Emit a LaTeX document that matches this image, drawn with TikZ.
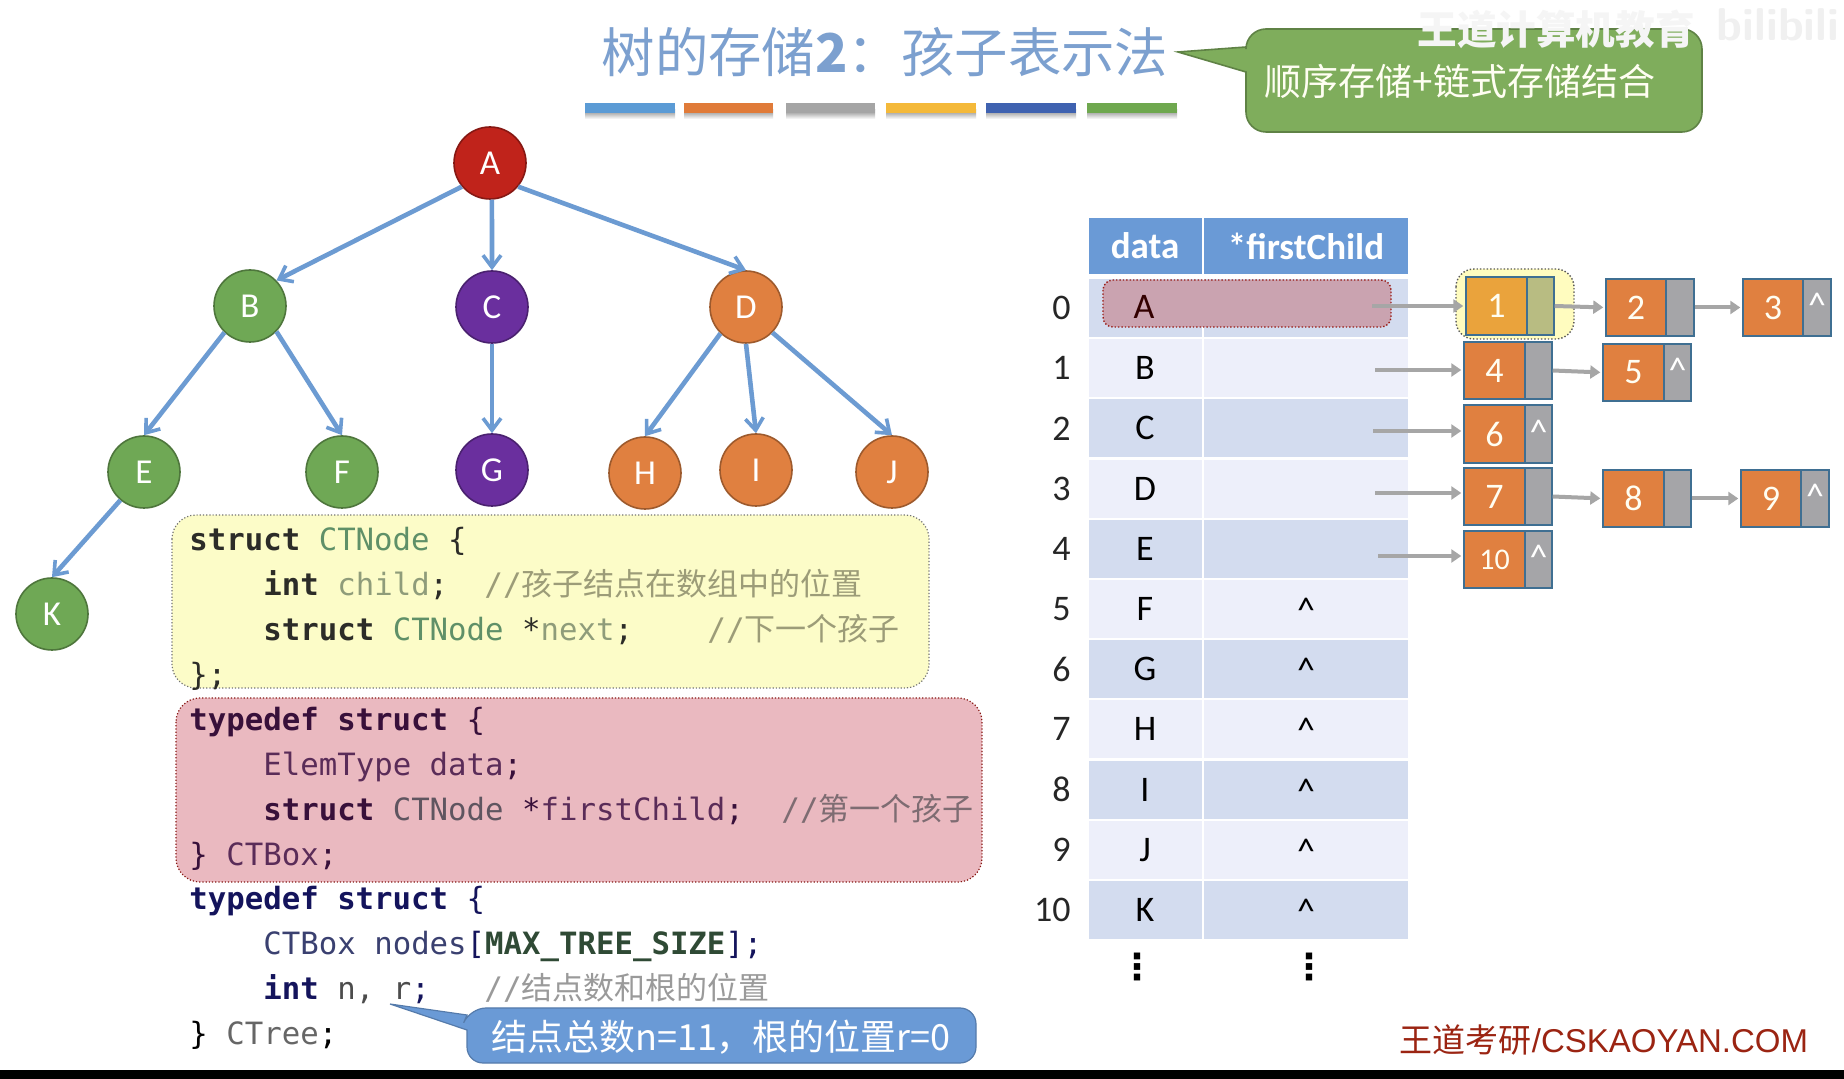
\documentclass[tikz,border=0pt]{standalone}
\usepackage{fontspec}
\usetikzlibrary{arrows.meta,calc}
\setmainfont{Carlito}
\newfontfamily\cjk{Noto Sans CJK SC}
\newfontfamily\code{DejaVu Sans Mono}
\newfontfamily\arial{Liberation Sans}
\newfontfamily\djv{DejaVu Sans}
\definecolor{treeblue}{HTML}{6C9BD2}
\definecolor{hdr}{HTML}{6A9AD6}
\definecolor{rowA}{HTML}{D3DCEF}
\definecolor{rowB}{HTML}{EDEFFA}
\definecolor{nodeR}{HTML}{C0231B}
\definecolor{nodeG}{HTML}{6FA855}
\definecolor{nodeP}{HTML}{6A2F9E}
\definecolor{nodeO}{HTML}{E08040}
\definecolor{listO}{HTML}{E08040}
\definecolor{listG}{HTML}{A5A5A8}
\definecolor{listE}{HTML}{3F6F92}
\definecolor{ptr}{HTML}{A6A6A6}
\definecolor{callG}{HTML}{7FAD5C}
\definecolor{callB}{HTML}{6A9AD6}
\definecolor{boxY}{HTML}{FCFCC8}
\definecolor{boxR}{HTML}{EAB9C0}
\definecolor{rowHi}{HTML}{CAA3B0}
\definecolor{kwY}{HTML}{2C2C28}
\definecolor{tyY}{HTML}{5F9068}
\definecolor{vaY}{HTML}{8F9C7A}
\definecolor{cmY}{HTML}{9C9C78}
\definecolor{kwR}{HTML}{38103A}
\definecolor{tyR}{HTML}{5A2C58}
\definecolor{ctR}{HTML}{5F5560}
\definecolor{cmR}{HTML}{7E6C72}
\definecolor{kwW}{HTML}{14145C}
\definecolor{tyW}{HTML}{3A4070}
\definecolor{maW}{HTML}{2F4A35}
\definecolor{cmW}{HTML}{9A9A9A}
\newcommand{\kw}[2]{{\color{#1}\bfseries #2}}
\newcommand{\lnode}[8]{%
  % name x1 xdiv x2 y1 y2 label pointer-text
  \pgfmathsetmacro{\wa}{(#3-#2)*0.5}\pgfmathsetmacro{\wb}{(#4-#3)*0.5}\pgfmathsetmacro{\hh}{(#6-#5)*0.5}%
  \node[listcell,fill=listO,minimum width=\wa pt,minimum height=\hh pt,font=\listfont] (#1) at ({(#2+#3)/2},{(#5+#6)/2}) {#7};
  \node[listcell,fill=listG,minimum width=\wb pt,minimum height=\hh pt,font=\fontsize{18}{18}\selectfont,text=white] (#1p) at ({(#3+#4)/2},{(#5+#6)/2}) {\raisebox{2pt}{#8}};
}
\newcommand{\listfont}{\fontsize{18}{18}\selectfont}
\tikzset{
  treenode/.style={circle,minimum size=36pt,inner sep=0pt,draw=#1!70!black,line width=0.8pt,fill=#1,text=white,font=\fontsize{17.5}{18}\selectfont},
  edge/.style={draw=treeblue,line width=2.3pt,-{Straight Barb[length=6pt,width=9pt,line width=1.8pt]}},
  listcell/.style={draw=listE,line width=0.7pt,inner sep=0pt,text=white!95!yellow},
  ptrarrow/.style={draw=ptr,line width=2pt,-{Triangle[length=5pt,width=6.5pt]},shorten >=1pt},
  cellA/.style={fill=rowA,minimum height=29pt,inner sep=0pt,font=\fontsize{18}{18}\selectfont,text height=11.5pt,text depth=0pt},
  cellB/.style={fill=rowB,minimum height=29pt,inner sep=0pt,font=\fontsize{18}{18}\selectfont,text height=11.5pt,text depth=0pt},
  wd/.style={minimum width=56pt},
  wf/.style={minimum width=102pt},
  hdrcell/.style={fill=hdr,text=white,inner sep=0pt,minimum height=28pt,font=\fontsize{18.5}{19}\selectfont\bfseries},
  idx/.style={anchor=east,inner sep=0pt,font=\fontsize{18}{18}\selectfont,text=black!85},
  codeline/.style={anchor=base west,inner sep=0pt,font=\code\fontsize{15.35}{15.35}\selectfont},
  comment/.style={anchor=base west,inner sep=0pt,font=\fontsize{15.5}{15.5}\selectfont},
  vdots/.style={inner sep=0pt,font=\djv\fontsize{18}{18}\selectfont\bfseries},
}
\begin{document}
\begin{tikzpicture}[x=0.5pt,y=-0.5pt]
\useasboundingbox (0,0) rectangle (1844,1079);
\fill[white] (0,0) rectangle (1844,1079);
\fill[black] (0,1070) rectangle (1844,1079);

% title
\node[inner sep=0pt,text=hdr!85!gray!90!white,font=\cjk\fontsize{26.7}{27}\selectfont] (title) at (885,52) {树的存储{\bfseries 2}：孩子表示法};
\foreach \xa/\xb/\c in {585/675/5B9BD5,684/773/E07B39,786/875/A5A5A5,886/976/F4B93A,986/1076/3F62B0,1087/1177/6FA84F}{
  \definecolor{tmpc}{HTML}{\c}
  \shade[top color=black!45,bottom color=white] (\xa,110) rectangle (\xb,119);
  \fill[tmpc] (\xa,103) rectangle (\xb,113);
}

% watermark & green callout
\node[inner sep=0pt,text=black!6,font=\sffamily\bfseries\fontsize{23}{23}\selectfont] (logo) at (1778,25) {bilibili};
\draw[draw=callG!75!black,fill=callG,line width=0.8pt,rounded corners=10pt]
  (1246,72) -- (1246,132) -- (1702,132) -- (1702,29) -- (1246,29) [sharp corners] -- (1246,47) -- (1178,52) -- cycle;
\node[inner sep=0pt,text=white!95!yellow,font=\cjk\fontsize{18.5}{19}\selectfont] (calltxt) at (1460,81) {顺序存储+链式存储结合};
\node[inner sep=0pt,text=black!4,font=\cjk\bfseries\fontsize{19.8}{20}\selectfont] (wm) at (1556,29) {王道计算机教育};

% tree
\node[treenode=nodeR] (A) at (490,163) {A};
\node[treenode=nodeG] (B) at (250,306) {B};
\node[treenode=nodeP] (C) at (492,307) {C};
\node[treenode=nodeO] (D) at (746,307) {D};
\node[treenode=nodeG] (E) at (144,472) {E};
\node[treenode=nodeG] (F) at (342,472) {F};
\node[treenode=nodeP] (G) at (492,470) {G};
\node[treenode=nodeO] (H) at (645,473) {H};
\node[treenode=nodeO] (I) at (756,470) {I};
\node[treenode=nodeO] (J) at (892,472) {J};
\node[treenode=nodeG] (K) at (52,614) {K};
\draw[edge] (A.220) -- (B.44);
\draw[edge] (A.-87) -- (C.north);
\draw[edge] (A.-40) -- (D.north);
\draw[edge] (B.226) -- (E.north);
\draw[edge] (B.-44) -- (F.north);
\draw[edge] (C.south) -- (G.north);
\draw[edge] (D.226) -- (H.north);
\draw[edge] (D.south) -- (I.north);
\draw[edge] (D.-44) -- (J.north);
\draw[edge] (E.230) -- (K.north);

% code highlight boxes
\draw[draw=black!55,densely dotted,line width=0.6pt,fill=boxY,rounded corners=12pt] (172,515) rectangle (929,688);
\draw[draw=nodeR!70!black,densely dotted,line width=0.6pt,fill=boxR,rounded corners=12pt] (176,698) rectangle (982,882);

% code
\node[codeline] (l1) at (189,551) {\kw{kwY}{struct} {\color{tyY}CTNode} {\color{kwY}\{}};
\node[codeline] (l2) at (263,596) {\kw{kwY}{int} {\color{vaY}child}{\color{kwY};}};
\node[comment,text=cmY] (c2) at (484,596) {{\code //}{\cjk 孩子结点在数组中的位置}};
\node[codeline] (l3) at (263,641) {\kw{kwY}{struct} {\color{tyY}CTNode} {\color{kwY}*}{\color{vaY}next}{\color{kwY};}};
\node[comment,text=cmY] (c3) at (707,641) {{\code //}{\cjk 下一个孩子}};
\node[codeline] (l4) at (189,686) {{\color{kwY}\};}};

\node[codeline] (l5) at (189,731) {\kw{kwR}{typedef struct} {\color{kwR}\{}};
\node[codeline] (l6) at (263,776) {{\color{tyR}ElemType data}{\color{kwR};}};
\node[codeline] (l7) at (263,821) {\kw{kwR}{struct} {\color{ctR}CTNode} {\color{kwR}*}{\color{tyR}firstChild}{\color{kwR};}};
\node[comment,text=cmR] (c7) at (781,821) {{\code //}{\cjk 第一个孩子}};
\node[codeline] (l8) at (189,866) {{\color{kwR}\}} {\color{tyR}CTBox}{\color{kwR};}};

\node[codeline] (l9) at (189,910) {\kw{kwW}{typedef struct} {\color{kwW}\{}};
\node[codeline] (l10) at (263,955) {{\color{tyW}CTBox nodes}{\color{kwW}[}\kw{maW}{MAX\_TREE\_SIZE}{\color{kwW}];}};
\node[codeline] (l11) at (263,1000) {\kw{kwW}{int} {\color{black!70}n,} {\color{black!70}r}{\color{kwW};}};
\node[comment,text=cmW] (c11) at (484,1000) {{\code //}{\cjk 结点数和根的位置}};
\node[codeline] (l12) at (189,1044) {{\color{black}\}} {\color{black!60}CTree}{\color{black};}};

% blue callout
\draw[draw=callB!80!black,fill=callB,line width=0.6pt,rounded corners=8pt]
  (467,1030) -- (467,1063) -- (976,1063) -- (976,1008) -- (470,1008) [sharp corners] -- (467,1015) -- (390,1004) -- cycle;
\node[inner sep=0pt,text=white,font=\cjk\fontsize{18}{18}\selectfont] (blue) at (721,1037) {结点总数n=11，根的位置r=0};

% table
\node[hdrcell,minimum width=56.5pt] (hd) at (1145,246) {data};
\node[hdrcell,minimum width=102pt] (hf) at (1306,246) {*firstChild};
\foreach \i/\lt/\st in {0//cellA,1/B/cellB,2/C/cellA,3/D/cellB,4/E/cellA,5/F/cellB,6/G/cellA,7/H/cellB,8/I/cellA,9/J/cellB,10/K/cellA}{
  \pgfmathsetmacro{\yy}{308+60.2*\i}
  \node[\st,wd,minimum width=56.5pt] (d\i) at (1145,\yy) {\lt};
  \node[idx] (n\i) at (1071,\yy) {\i};
}
\foreach \i/\st in {0/cellA,1/cellB,2/cellA,3/cellB,4/cellA}{
  \pgfmathsetmacro{\yy}{308+60.2*\i}
  \node[\st,wf] (f\i) at (1306,\yy) {};
}
\foreach \i/\st in {5/cellB,6/cellA,7/cellB,8/cellA,9/cellB,10/cellA}{
  \pgfmathsetmacro{\yy}{308+60.2*\i}
  \node[\st,wf] (f\i) at (1306,\yy) {\raisebox{-1pt}{\textasciicircum}};
}
\node[vdots] (dotsa) at (1137,967) {⋮};
\node[vdots] (dotsb) at (1309,967) {⋮};

% red overlay on row 0
\draw[draw=nodeR!80!black,densely dotted,line width=0.7pt,fill=rowHi,rounded corners=5pt] (1103,280) rectangle (1391,327);
\node[inner sep=0pt,font=\fontsize{18}{18}\selectfont,text=black!80!red] (dA) at (1144,307) {A};

% yellow highlight
\draw[draw=black!65,densely dotted,line width=0.7pt,fill=yellow!25,rounded corners=9pt] (1456,269) rectangle (1574,339);

% linked lists
\definecolor{listO}{HTML}{EAA33C}\definecolor{listG}{HTML}{B8BC82}
\lnode{l1n}{1466}{1527}{1554}{277}{335}{1}{}
\definecolor{listO}{HTML}{E08040}\definecolor{listG}{HTML}{A5A5A8}
\lnode{l2n}{1606}{1666}{1694}{279}{336}{2}{}
\lnode{l3n}{1743}{1803}{1831}{279}{336}{3}{\textasciicircum}
\lnode{l4n}{1464}{1525}{1552}{342}{399}{4}{}
\lnode{l5n}{1603}{1664}{1691}{344}{401}{5}{\textasciicircum}
\lnode{l6n}{1464}{1525}{1552}{405}{463}{6}{\textasciicircum}
\lnode{l7n}{1464}{1525}{1552}{468}{525}{7}{}
\lnode{l8n}{1603}{1664}{1691}{470}{527}{8}{}
\lnode{l9n}{1741}{1801}{1829}{470}{527}{9}{\textasciicircum}
\renewcommand{\listfont}{\fontsize{15}{15}\selectfont}
\lnode{l10n}{1464}{1525}{1552}{531}{588}{10}{\textasciicircum}

\coordinate (s0) at (1372,306);
\coordinate (s1) at (1375,370);
\coordinate (s2) at (1373,431);
\coordinate (s3) at (1375,493);
\coordinate (s4) at (1378,556);
\draw[ptrarrow] (s0) -- (s0 -| l1n.west);
\draw[ptrarrow] (s1) -- (s1 -| l4n.west);
\draw[ptrarrow] (s2) -- (s2 -| l6n.west);
\draw[ptrarrow] (s3) -- (s3 -| l7n.west);
\draw[ptrarrow] (s4) -- (s4 -| l10n.west);
\draw[ptrarrow] (l1np.east) -- (l2n.west);
\draw[ptrarrow] (l2np.east) -- (l3n.west);
\draw[ptrarrow] (l4np.east) -- (l5n.west);
\draw[ptrarrow] (l7np.east) -- (l8n.west);
\draw[ptrarrow] (l8np.east) -- (l9n.west);

% footer
\node[inner sep=0pt,text=nodeR!75!black!90!orange,font=\arial\fontsize{16.5}{17}\selectfont] (foot) at (1604,1040) {{\cjk 王道考研}/CSKAOYAN.COM};
\end{tikzpicture}
\end{document}
